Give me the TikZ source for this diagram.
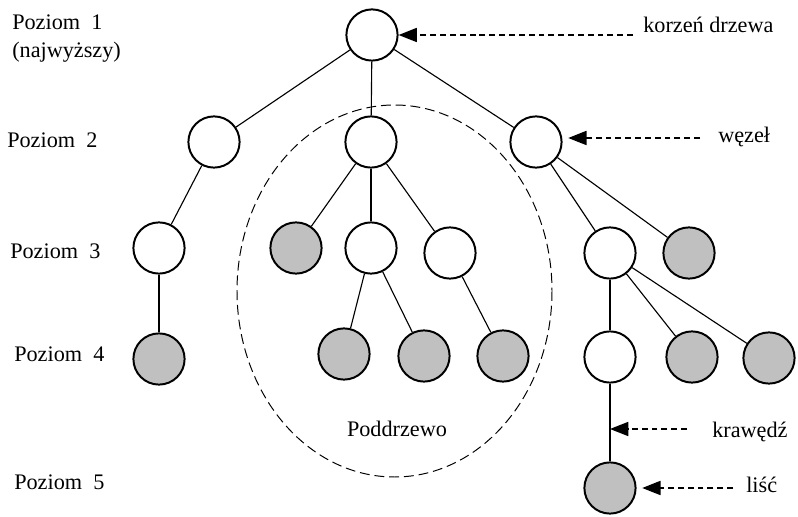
\documentclass[tikz,border=0pt]{standalone}
\usepackage{fontspec}
\setmainfont{Liberation Serif}
\usepackage{tikz}
\usetikzlibrary{arrows.meta}
\definecolor{leafgray}{RGB}{192,192,192}

\begin{document}
\begin{tikzpicture}[x=0.025cm, y=-0.025cm, font=\fontsize{15.8}{19}\selectfont]
  \tikzset{vertex/.style={draw, circle, line width=1.4pt, fill=white, inner sep=0pt, minimum size=1.28cm},
           leaf/.style={vertex, fill=leafgray},
           edge/.style={line width=0.8pt},
           pointer/.style={line width=1.1pt, dash pattern=on 4.2pt off 2.8pt, -{Triangle[length=13pt, width=10pt]}}}

  \useasboundingbox (0,0) rectangle (798,517);

  % Subtree outline
  \draw [line width=0.7pt, dash pattern=on 7pt off 3.5pt] (394.5,291) ellipse [x radius=157.5, y radius=186];

  % Inner nodes
  \foreach \n/\x/\y in {root/372/35, a/214/142, b/371/142, c/536/142,
                        aa/159/248, bb/371/248, bc/450/253, ca/610/253, caa/610/357} {
    \node [vertex] (\n) at (\x,\y) {};
  }

  % Leaves
  \foreach \n/\x/\y in {ba/296/248, cb/689/253, aaa/159/359, bba/344/354, bbb/424/356,
                        bca/503/356, cab/692/357, cac/769/358, caaa/610/488} {
    \node [leaf] (\n) at (\x,\y) {};
  }

  % Edges
  \draw [edge] (root) -- (a);
  \draw [edge] (root) -- (b);
  \draw [edge] (root) -- (c);
  \draw [edge] (a) -- (aa);
  \draw [edge] (aa) -- (aaa);
  \draw [edge] (b) -- (ba);
  \draw [edge] (b) -- (bb);
  \draw [edge] (b) -- (bc);
  \draw [edge] (bb) -- (bba);
  \draw [edge] (bb) -- (bbb);
  \draw [edge] (bc) -- (bca);
  \draw [edge] (c) -- (ca);
  \draw [edge] (c) -- (cb);
  \draw [edge] (ca) -- (caa);
  \draw [edge] (ca) -- (cab);
  \draw [edge] (ca) -- (cac);
  \draw [edge] (caa) -- (caaa);

  % Level labels
  \node [anchor=base west, inner sep=0pt] (lev1) at (12,30) {Poziom\ \ 1};
  \node [anchor=base west, inner sep=0pt] (lev1b) at (12,58) {(najwyższy)};
  \node [anchor=base west, inner sep=0pt] (lev2) at (7,148) {Poziom\ \ 2};
  \node [anchor=base west, inner sep=0pt] (lev3) at (10,259) {Poziom\ \ 3};
  \node [anchor=base west, inner sep=0pt] (lev4) at (14,362) {Poziom\ \ 4};
  \node [anchor=base west, inner sep=0pt] (lev5) at (14,490) {Poziom\ \ 5};

  \node [anchor=base, inner sep=0pt] (sub) at (397,437) {Poddrzewo};

  % Pointers
  \node [anchor=base west, inner sep=0pt] (rootlbl) at (643,33) {korzeń drzewa};
  \node [anchor=base west, inner sep=0pt] (nodelbl) at (718,143) {węzeł};
  \node [anchor=base west, inner sep=0pt] (edgelbl) at (712,438) {krawędź};
  \node [anchor=base west, inner sep=0pt] (leaflbl) at (746,493) {liść};

  \coordinate (rootend) at (633,35);
  \coordinate (nodeend) at (700,138);
  \coordinate (edgeend) at (687,429);
  \coordinate (edgept) at (610,429);
  \coordinate (leafend) at (733,488);

  \draw [pointer] (rootend) -- (root.east);
  \draw [pointer] (nodeend) -- ([xshift=4pt]c.east |- nodeend);
  \draw [pointer] (edgeend) -- (edgept);
  \draw [pointer] (leafend) -- ([xshift=4pt]caaa.east);

\end{tikzpicture}
\end{document}
